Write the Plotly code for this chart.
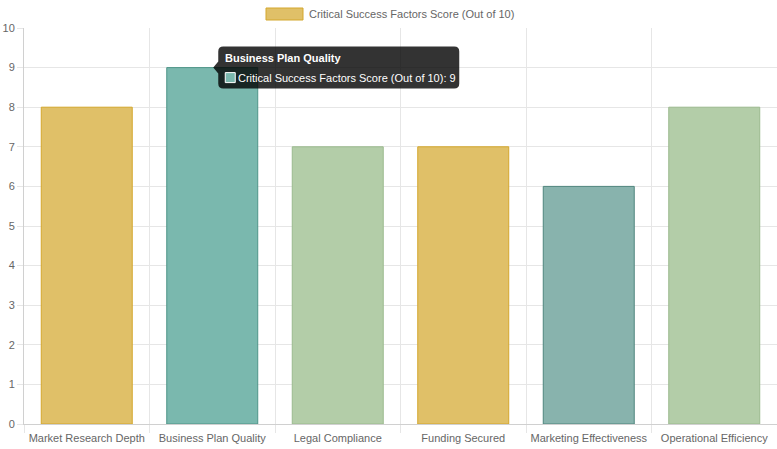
import plotly.graph_objects as go

categories = [
    "Market Research Depth",
    "Business Plan Quality",
    "Legal Compliance",
    "Funding Secured",
    "Marketing Effectiveness",
    "Operational Efficiency",
]
scores = [8, 9, 7, 7, 6, 8]
fill_colors = ["#E0C068", "#7AB8AE", "#B3CDA8", "#E0C068", "#88B3AD", "#B3CDA8"]
line_colors = ["#D4A72C", "#4E9488", "#9BBA8E", "#D4A72C", "#4F857D", "#9BBA8E"]
series_name = "Critical Success Factors Score (Out of 10)"
hover_index = 1  # bar with the tooltip open

W, H = 777, 449
M_L, M_R, M_T, M_B = 24, 0, 28, 25
plot_w = W - M_L - M_R
plot_h = H - M_T - M_B
FS = 11
GREY = "#666"


def px_x(px):
    # page pixel -> paper fraction
    return (px - M_L) / plot_w


def px_y(py):
    return (H - M_B - py) / plot_h


fig = go.Figure(
    go.Bar(
        x=categories,
        y=scores,
        name=series_name,
        marker=dict(color=fill_colors, line=dict(color=line_colors, width=1)),
        hoverinfo="skip",
    )
)

# legend drawn by hand (wide box like chart.js)
shapes = [
    dict(
        type="rect", xref="paper", yref="paper",
        x0=px_x(266), x1=px_x(303), y0=px_y(20), y1=px_y(8),
        fillcolor=fill_colors[0], line=dict(color=line_colors[0], width=1),
    )
]
annotations = [
    dict(
        text=series_name, xref="paper", yref="paper",
        x=px_x(307), y=px_y(14), xanchor="left", yanchor="middle",
        showarrow=False, font=dict(size=FS, color=GREY),
    )
]

# tooltip for the hovered bar
L, R, T, B, r = 6, 247, 21, -21, 5
tip_path = (
    f"M 1,0 L {L},6 L {L},{T - r} Q {L},{T} {L + r},{T} L {R - r},{T} "
    f"Q {R},{T} {R},{T - r} L {R},{B + r} Q {R},{B} {R - r},{B} "
    f"L {L + r},{B} Q {L},{B} {L},{B + r} L {L},-6 Z"
)
shapes.append(
    dict(
        type="path", xref="x", yref="y",
        xsizemode="pixel", ysizemode="pixel",
        xanchor=hover_index, yanchor=scores[hover_index],
        path=tip_path, fillcolor="rgba(0,0,0,0.8)", line=dict(width=0),
    )
)
shapes.append(
    dict(
        type="rect", xref="x", yref="y",
        xsizemode="pixel", ysizemode="pixel",
        xanchor=hover_index, yanchor=scores[hover_index],
        x0=13, x1=23, y0=-5, y1=-15,
        fillcolor=fill_colors[hover_index], line=dict(color="white", width=1),
    )
)
annotations.append(
    dict(
        text="<b>" + categories[hover_index] + "</b>",
        x=categories[hover_index], y=scores[hover_index],
        xanchor="left", yanchor="middle", xshift=11, yshift=10,
        showarrow=False, font=dict(size=FS, color="white"),
    )
)
annotations.append(
    dict(
        text=f"{series_name}: {scores[hover_index]}",
        x=categories[hover_index], y=scores[hover_index],
        xanchor="left", yanchor="middle", xshift=24, yshift=-10,
        showarrow=False, font=dict(size=FS, color="white"),
    )
)

fig.update_layout(
    width=W,
    height=H,
    margin=dict(l=M_L, r=M_R, t=M_T, b=M_B),
    plot_bgcolor="white",
    paper_bgcolor="white",
    font=dict(family="Liberation Sans, Arial, sans-serif", size=FS, color=GREY),
    bargap=0.275,
    showlegend=False,
    shapes=shapes,
    annotations=annotations,
)
fig.update_xaxes(
    tickson="boundaries",
    tickangle=0,
    automargin=False,
    tickfont=dict(color=GREY),
    ticklabelstandoff=4,
    showgrid=True,
    gridcolor="#e6e6e6",
    ticks="outside",
    ticklen=8,
    tickcolor="#e6e6e6",
    showline=True,
    linecolor="#d0d0d0",
)
fig.update_yaxes(
    range=[0, 10],
    dtick=1,
    automargin=False,
    tickfont=dict(color=GREY),
    ticks="outside",
    ticklen=6,
    tickcolor="#e6e6e6",
    gridcolor="#e6e6e6",
    showline=True,
    linecolor="#d0d0d0",
    zeroline=False,
)

# drop the default body margin so the figure sits at the page's top-left corner
fig.write_html(
    "out.html",
    config={"displayModeBar": False},
    post_script="document.body.style.margin='0';document.body.style.overflow='hidden';",
)
